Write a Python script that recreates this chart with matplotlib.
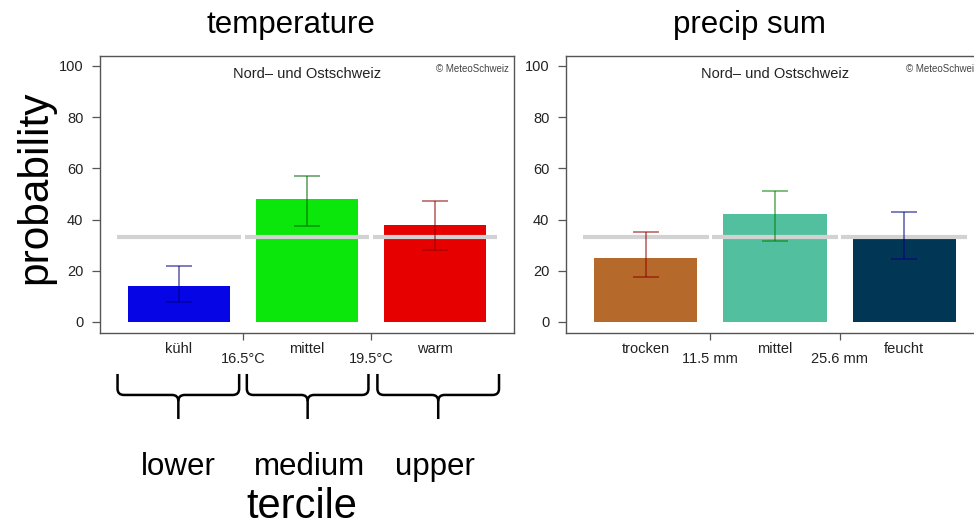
import matplotlib
matplotlib.use("Agg")
import matplotlib.pyplot as plt
from matplotlib.path import Path
from matplotlib.patches import PathPatch

plt.rcParams['font.family'] = ['Liberation Sans', 'DejaVu Sans']

# ---------------- data ----------------
temp_categories = ["kühl", "mittel", "warm"]
temp_values = [14, 48, 38]
temp_low = [7.7, 37.4, 28.1]
temp_high = [22, 57, 47.1]
temp_thresholds = ["16.5°C", "19.5°C"]
temp_colors = ["#0505e6", "#0be60b", "#e60000"]
temp_err_colors = ["#000080", "#006400", "#8b0000"]

prec_categories = ["trocken", "mittel", "feucht"]
prec_values = [25, 42, 32.3]
prec_low = [17.5, 31.7, 24.5]
prec_high = [35.1, 51, 43.1]
prec_thresholds = ["11.5 mm", "25.6 mm"]
prec_colors = ["#b5692a", "#52bf9e", "#013755"]
prec_err_colors = ["#8b0000", "#008000", "#000080"]

climatology = 100 / 3
region = "Nord– und Ostschweiz"
credit = "© MeteoSchweiz"
titles = ["temperature", "precip sum"]
tercile_names = ["lower", "medium", "upper"]

W, H = 974, 526
fig = plt.figure(figsize=(W / 100, H / 100), dpi=100)


def fx(px):
    return px / W


def fy(py):
    return 1 - py / H


def make_panel(left_px, right_px, cats, vals, lo, hi, thr, cols, ecols):
    ax = fig.add_axes([fx(left_px), fy(333), fx(right_px) - fx(left_px), fy(56) - fy(333)])
    pos = list(range(1, len(cats) + 1))
    ax.bar(pos, vals, width=0.8, color=cols, edgecolor="none", zorder=2)
    ax.hlines([climatology] * len(pos), [p - 0.488 for p in pos], [p + 0.488 for p in pos],
              colors="#d2d2d2", linewidth=3.0, zorder=3, capstyle="butt")
    for p, v, l, h, c in zip(pos, vals, lo, hi, ecols):
        ax.errorbar([p], [v], yerr=[[v - l], [h - v]], fmt="none", ecolor=c, alpha=0.55,
                    elinewidth=1.3, capsize=9.4, capthick=1.3, zorder=4)
    ax.set_xlim(0.383, 3.617)
    ax.set_ylim(-4.3, 103.9)
    ax.set_yticks([0, 20, 40, 60, 80, 100])
    ax.tick_params(axis="y", length=6, width=0.9, color="#555555", labelsize=10.5,
                   labelcolor="#222222", pad=6)
    ax.set_xticks([1.5, 2.5])
    ax.set_xticklabels(thr)
    ax.tick_params(axis="x", which="major", length=5, width=0.9, color="#555555",
                   labelsize=10.5, labelcolor="#222222", pad=8.5)
    ax.set_xticks(pos, minor=True)
    ax.set_xticklabels(cats, minor=True)
    ax.tick_params(axis="x", which="minor", length=0, labelsize=10.5, labelcolor="#222222",
                   pad=6.5)
    for s in ax.spines.values():
        s.set_color("#555555")
        s.set_linewidth(1.0)
    ax.text(0.5, 1 - 18 / 277, region, transform=ax.transAxes, ha="center", va="center",
            fontsize=10.5, color="#222222")
    ax.text(1 - 5 / (right_px - left_px), 1 - 12.7 / 277, credit, transform=ax.transAxes,
            ha="right", va="center", fontsize=7, color="#444444")
    return ax


ax1 = make_panel(100, 514, temp_categories, temp_values, temp_low, temp_high,
                 temp_thresholds, temp_colors, temp_err_colors)
ax2 = make_panel(566, 984, prec_categories, prec_values, prec_low, prec_high,
                 prec_thresholds, prec_colors, prec_err_colors)

# titles
fig.text(fx(291), fy(33), titles[0], ha="center", va="baseline", fontsize=22.5)
fig.text(fx(749), fy(33), titles[1], ha="center", va="baseline", fontsize=22.5)
fig.text(fx(35), fy(187), "probability", ha="center", va="center", rotation=90, fontsize=30.5)

# braces under temperature panel (data x, data y, unclipped)
ytop, yh, ybot = -20.3, -28.5, -37.9
rx, ry = 0.05, 2.4
brace_spans = [(0.52, 1.47), (1.53, 2.48), (2.55, 3.50)]
for (x0, x1) in brace_spans:
    xc = (x0 + x1) / 2
    verts = [(x0, ytop), (x0, yh + ry), (x0, yh), (x0 + rx, yh), (xc - rx, yh),
             (xc, yh), (xc, yh - ry), (xc, ybot)]
    codes = [Path.MOVETO, Path.LINETO, Path.CURVE3, Path.CURVE3, Path.LINETO,
             Path.CURVE3, Path.CURVE3, Path.LINETO]
    verts2 = [(x1, ytop), (x1, yh + ry), (x1, yh), (x1 - rx, yh), (xc + rx, yh),
              (xc, yh), (xc, yh - ry)]
    codes2 = [Path.MOVETO, Path.LINETO, Path.CURVE3, Path.CURVE3, Path.LINETO,
              Path.CURVE3, Path.CURVE3]
    for v, c in ((verts, codes), (verts2, codes2)):
        patch = PathPatch(Path(v, c), facecolor="none", edgecolor="black", linewidth=1.8,
                          clip_on=False, capstyle="butt", joinstyle="round")
        ax1.add_patch(patch)

for name, xp in zip(tercile_names, [178, 310, 435]):
    fig.text(fx(xp), fy(475), name, ha="center", va="baseline", fontsize=22.5)
fig.text(fx(302), fy(518), "tercile", ha="center", va="baseline", fontsize=30)

fig.savefig("out.png", dpi=100)
